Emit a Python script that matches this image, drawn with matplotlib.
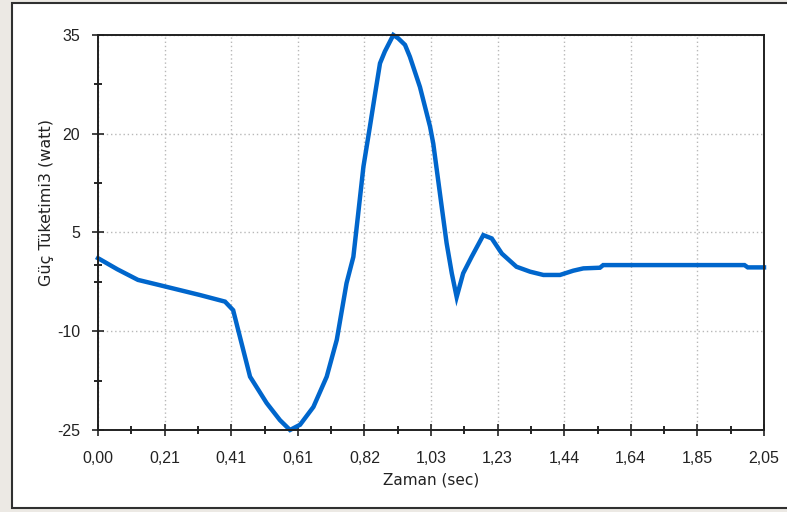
import numpy as np
import matplotlib
matplotlib.use("Agg")
import matplotlib.pyplot as plt
from matplotlib.patches import Rectangle
from matplotlib.ticker import FixedLocator

# values
time_sec = [
    0.000, 0.060, 0.123, 0.190, 0.314, 0.391, 0.416, 0.468, 0.519, 0.560,
    0.591, 0.622, 0.663, 0.704, 0.735, 0.765, 0.786, 0.801, 0.817, 0.837,
    0.853, 0.868, 0.883, 0.909, 0.924, 0.945, 0.960, 0.991, 1.022, 1.032,
    1.058, 1.073, 1.089, 1.104, 1.124, 1.150, 1.186, 1.212, 1.243, 1.288,
    1.330, 1.371, 1.422, 1.463, 1.494, 1.545, 1.555, 1.990, 2.000, 2.050,
]
power_watt = [
    1.1, -0.6, -2.2, -3.0, -4.5, -5.5, -6.8, -16.9, -20.9, -23.5,
    -25.0, -24.2, -21.5, -16.9, -11.3, -2.7, 1.3, 7.9, 15.0, 21.1,
    26.1, 30.7, 32.5, 35.0, 34.5, 33.5, 31.7, 27.1, 21.1, 18.5,
    8.9, 3.4, -1.2, -4.8, -1.2, 1.3, 4.6, 4.1, 1.8, -0.2,
    -0.95, -1.45, -1.45, -0.8, -0.45, -0.35, 0.05, 0.05, -0.3, -0.3,
]

x_ticks = [i * 0.205 for i in range(11)]
x_tick_labels = ["0,00", "0,21", "0,41", "0,61", "0,82", "1,03",
                 "1,23", "1,44", "1,64", "1,85", "2,05"]
y_ticks = [-25, -10, 5, 20, 35]
y_minor = [-17.5, -2.5, 0, 12.5, 27.5]

plt.rcParams["font.family"] = ["Liberation Sans", "DejaVu Sans"]
plt.rcParams["axes.unicode_minus"] = False

fig = plt.figure(figsize=(7.87, 5.12), dpi=100)
fig.patch.set_facecolor("#ece9e4")
# white panel with dark frame, like the window it was captured from
fig.patches.append(Rectangle((12 / 787, 4 / 512), 780 / 787, 505 / 512,
                             transform=fig.transFigure, facecolor="white",
                             edgecolor="#303030", linewidth=1.5, zorder=-10))

ax = fig.add_axes([98 / 787, 1 - 430 / 512, 666 / 787, 395 / 512])
ax.plot(time_sec, power_watt, color="#0066cc", linewidth=3.2,
        solid_joinstyle="miter", clip_on=False)

ax.set_xlim(0, 2.05)
ax.set_ylim(-25, 35)
ax.set_xticks(x_ticks)
ax.set_xticklabels(x_tick_labels)
ax.xaxis.set_minor_locator(FixedLocator([t + 0.1025 for t in x_ticks[:-1]]))
ax.set_yticks(y_ticks)
ax.yaxis.set_minor_locator(FixedLocator(y_minor))

ax.grid(True, which="major", linestyle=(0, (1, 2)), color="#b8b8b8", linewidth=1)
ax.tick_params(axis="both", which="major", direction="inout", length=8,
               width=1.2, labelsize=11.5, colors="#222222")
ax.tick_params(axis="both", which="minor", direction="inout", length=6, width=1.2)
ax.tick_params(axis="x", which="major", pad=11)
ax.tick_params(axis="y", which="major", pad=9)

for side in ["left", "bottom", "top", "right"]:
    ax.spines[side].set_linewidth(1.4)
    ax.spines[side].set_color("#202020")

ax.set_xlabel("Zaman (sec)", fontsize=11, family="DejaVu Sans", color="#222222")
ax.xaxis.set_label_coords(0.5, -0.108)
ax.set_ylabel("Güç Tüketimi3 (watt)", fontsize=11.5, family="DejaVu Sans",
              color="#222222")
ax.yaxis.set_label_coords(-0.066, 0.575)

fig.savefig("out.png", dpi=100, facecolor=fig.get_facecolor())
